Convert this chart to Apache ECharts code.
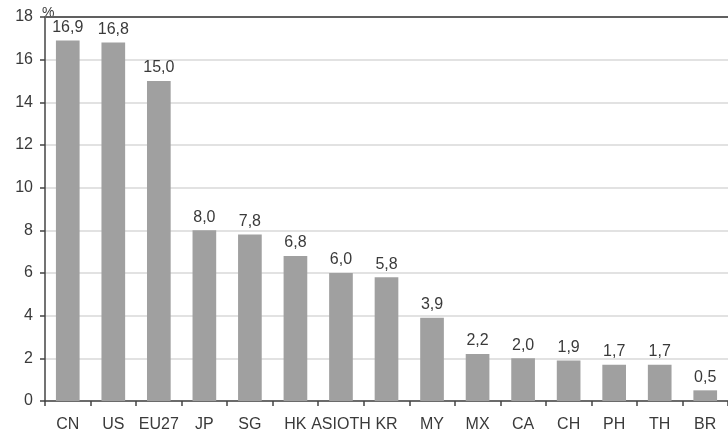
<!DOCTYPE html>
<html><head><meta charset="utf-8">
<script src="https://cdn.jsdelivr.net/npm/echarts@6/dist/echarts.min.js"></script>
<style>html,body{margin:0;padding:0;background:#fff}#c{width:728px;height:437px}</style>
</head><body><div id="c"></div>
<script>
var categories = ['CN','US','EU27','JP','SG','HK','ASIOTH','KR','MY','MX','CA','CH','PH','TH','BR'];
var values = [16.9,16.8,15.0,8.0,7.8,6.8,6.0,5.8,3.9,2.2,2.0,1.9,1.7,1.7,0.5];
var yTicks = {min:0, max:18, interval:2};

var chart = echarts.init(document.getElementById('c'), null, {renderer:'canvas'});
chart.setOption({
  animation:false,
  backgroundColor:'#fff',
  grid:{left:45, top:17, width:691, height:384, containLabel:false},
  xAxis:{
    type:'category', data:categories, boundaryGap:true,
    axisLine:{show:true, lineStyle:{color:'#444', width:1.5}},
    axisTick:{show:true, alignWithLabel:false, length:5, lineStyle:{color:'#444', width:1.5}},
    axisLabel:{color:'#3a3a3a', fontFamily:'Liberation Sans, Arial', fontSize:16, margin:16, interval:0},
    splitLine:{show:false}
  },
  yAxis:{
    type:'value', min:yTicks.min, max:yTicks.max, interval:yTicks.interval,
    name:'%', nameLocation:'end', nameGap:-3,
    nameTextStyle:{color:'#3a3a3a', fontFamily:'Liberation Sans, Arial', fontSize:14, align:'left', padding:[0,0,0,-3], verticalAlign:'bottom'},
    axisLine:{show:true, lineStyle:{color:'#444', width:1.5}},
    axisTick:{show:true, length:5, inside:false, lineStyle:{color:'#444', width:1.5}},
    axisLabel:{color:'#3a3a3a', fontFamily:'Liberation Sans, Arial', fontSize:16, margin:12},
    splitLine:{show:true, lineStyle:{color:'#e2e2e2', width:2}}
  },
  series:[{
    type:'bar', data:values, barWidth:'52%',
    itemStyle:{color:'#a0a0a0'},
    label:{show:true, position:'top', distance:5, color:'#3a3a3a', fontFamily:'Liberation Sans, Arial', fontSize:16,
      formatter:function(p){return p.value.toFixed(1).replace('.',',');}},
    markLine:{silent:true, symbol:'none', label:{show:false}, data:[{yAxis:18}],
      lineStyle:{color:'#606060', width:2, type:'solid'}}
  }]
});
</script></body></html>
